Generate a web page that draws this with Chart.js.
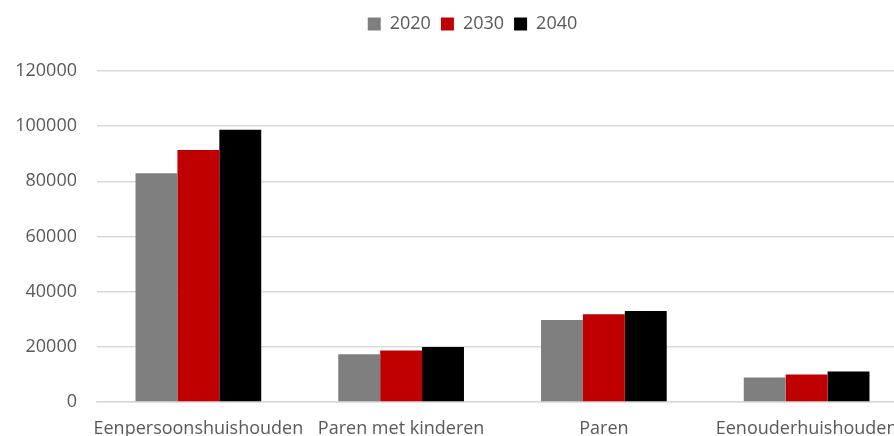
<!DOCTYPE html>
<html>
<head>
<meta charset="utf-8">
<script src="https://cdn.jsdelivr.net/npm/chart.js@4/dist/chart.umd.min.js"></script>
<style>
  html, body { margin: 0; padding: 0; background: #fff; overflow: hidden; }
  #wrap { position: relative; width: 945px; height: 436px; }
</style>
</head>
<body>
<div id="wrap"><canvas id="chart"></canvas></div>
<script>
const categories = ['Eenpersoonshuishouden', 'Paren met kinderen', 'Paren', 'Eenouderhuishouden'];
const years = ['2020', '2030', '2040'];
const values2020 = [82900, 17300, 29700, 8900];
const values2030 = [91400, 18700, 31800, 10000];
const values2040 = [98700, 19900, 33000, 11100];
const yTicks = [0, 20000, 40000, 60000, 80000, 100000, 120000];

const colors = ['#7f7f7f', '#c00000', '#000000'];
const textColor = '#595959';
const gridColor = '#d9d9d9';
const font = { family: "'Open Sans', sans-serif", size: 18 };
const rightPad = 37;

// legend sits in a taller band than Chart.js would give it,
// and is centred on the whole figure rather than the padded area
const legendSpacer = {
    id: 'legendSpacer',
    afterInit(chart){
        const fit = chart.legend.fit;
        chart.legend.fit = function(){ fit.call(this); this.height = 66; };
    },
    afterLayout(chart){
        chart.legend.left += rightPad / 2;
        chart.legend.right += rightPad / 2;
    }
};

const datasets = [values2020, values2030, values2040].map((vals, i) => ({
    label: years[i],
    data: vals,
    backgroundColor: colors[i],
    borderWidth: 0,
    barPercentage: 1,
    categoryPercentage: 0.62
}));

new Chart(document.getElementById('chart').getContext('2d'), {
    type: 'bar',
    data: { labels: categories, datasets },
    plugins: [legendSpacer],
    options: {
        responsive: true,
        maintainAspectRatio: false,
        animation: false,
        layout: { padding: { top: 5, left: 0, right: rightPad, bottom: 0 } },
        font,
        scales: {
            x: {
                grid: { display: false, drawTicks: false },
                border: { display: true, color: gridColor, width: 1.5 },
                ticks: { color: textColor, padding: 16, maxRotation: 0, autoSkip: false, font },
                afterFit: s => { s.height = 34; }
            },
            y: {
                min: 0, max: 120000,
                afterBuildTicks: s => { s.ticks = yTicks.map(v => ({ value: v })); },
                grid: { color: gridColor, lineWidth: 1.5, drawTicks: false },
                border: { display: false },
                ticks: { color: textColor, padding: 20, callback: v => String(v), font },
                afterFit: s => { s.width = 97; }
            }
        },
        plugins: {
            legend: {
                position: 'top',
                labels: { color: textColor, boxWidth: 13, boxHeight: 13, padding: 10, font }
            },
            tooltip: { enabled: false }
        }
    }
});
</script>
</body>
</html>
